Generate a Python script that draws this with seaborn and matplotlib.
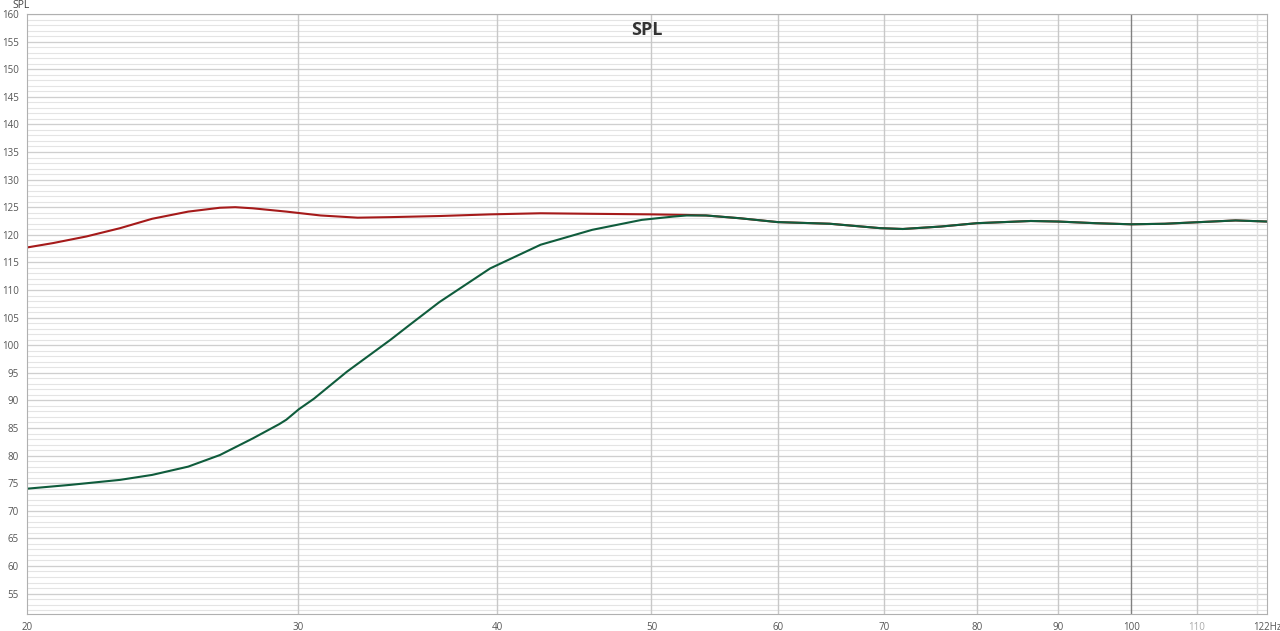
import numpy as np
import pandas as pd
import seaborn as sns
import matplotlib.pyplot as plt

# values (Hz, dB SPL)
red_freq = [20.28, 21.06, 22.1, 23.2, 24.3, 25.6, 26.8, 27.4, 28.1, 29.5, 31.0, 32.7, 34.3, 36.8, 39.6,
            42.6, 45.9, 50.0, 52.6, 54.1, 56.8, 60.0, 64.7, 69.6, 71.9, 76.0, 80.0, 86.5, 90.0, 95.0,
            100.0, 105.0, 110.5, 116.3, 121.7]
red_spl = [117.7, 118.5, 119.7, 121.2, 122.9, 124.2, 124.9, 125.0, 124.8, 124.2, 123.5, 123.1, 123.2, 123.4, 123.7,
           123.9, 123.8, 123.7, 123.6, 123.5, 123.0, 122.3, 122.0, 121.2, 121.05, 121.5, 122.1, 122.5, 122.4, 122.1,
           121.9, 122.0, 122.3, 122.6, 122.4]

green_freq = [20.28, 21.6, 23.2, 24.3, 25.6, 26.8, 28.1, 29.2, 29.5, 30.04, 30.7, 32.2, 34.3, 35.3, 36.8,
              39.6, 42.6, 45.9, 49.3, 51.6, 52.6, 54.1, 56.8, 60.0, 64.7, 69.6, 71.9, 76.0, 80.0, 86.5,
              90.0, 95.0, 100.0, 105.0, 110.5, 116.3, 121.7]
green_spl = [74.0, 74.7, 75.6, 76.5, 78.0, 80.1, 83.1, 85.7, 86.5, 88.4, 90.3, 95.2, 101.0, 103.8, 107.8,
             113.9, 118.2, 120.9, 122.7, 123.3, 123.5, 123.5, 123.0, 122.3, 122.0, 121.2, 121.05, 121.5, 122.1, 122.5,
             122.4, 122.1, 121.9, 122.0, 122.3, 122.6, 122.4]

x_ticks = [20.28, 30, 40, 50, 60, 70, 80, 90, 100, 110, 121.7]
x_labels = ["20", "30", "40", "50", "60", "70", "80", "90", "100", "110", "122Hz"]
y_ticks = list(range(55, 161, 5))

df = pd.concat([
    pd.DataFrame({"freq": red_freq, "spl": red_spl, "trace": "red"}),
    pd.DataFrame({"freq": green_freq, "spl": green_spl, "trace": "green"}),
])

sns.set_style("white")
plt.rcParams["font.family"] = ["Open Sans", "DejaVu Sans"]

fig = plt.figure(figsize=(12.8, 6.31), dpi=100)
ax = fig.add_axes([27 / 1280, 1 - 614 / 631, 1240 / 1280, 600 / 631])

ax.set_xscale("log")
ax.set_xlim(20.28, 121.7)
ax.set_ylim(51.3, 160)

# grid
for v in np.arange(52, 161, 1):
    ax.axhline(v, color="#e4e4e4", lw=0.8, zorder=0)
for v in y_ticks:
    ax.axhline(v, color="#cfcfcf", lw=0.9, zorder=0)
for v in [30, 40, 50, 60, 70, 80, 90, 110, 120]:
    ax.axvline(v, color="#c8c8c8" if v != 120 else "#e0e0e0", lw=1.0, zorder=0)
ax.axvline(100, color="#808080", lw=1.0, zorder=0)

sns.lineplot(data=df, x="freq", y="spl", hue="trace", palette={"red": "#a51a1a", "green": "#0f5c3c"},
             hue_order=["red", "green"], sort=False, estimator=None, lw=1.5, legend=False, ax=ax)

ax.set_xticks(x_ticks)
ax.set_xticklabels(x_labels)
ax.xaxis.set_minor_locator(plt.NullLocator())
ax.set_yticks(y_ticks)
ax.tick_params(axis="both", length=0, labelsize=7, colors="#555555", pad=6)
ax.get_xticklabels()[9].set_color("#aaaaaa")
ax.set_xlabel("")
ax.set_ylabel("")

for s in ax.spines.values():
    s.set_color("#b0b0b0")
    s.set_linewidth(0.8)

ax.text(0.5, 0.988, "SPL", transform=ax.transAxes, ha="center", va="top",
        fontsize=13, fontweight="bold", color="#333333")
fig.text(12 / 1280, 1 - 5 / 631, "SPL", ha="left", va="center", fontsize=7.5, color="#444444")

fig.savefig("out.png", dpi=100)
